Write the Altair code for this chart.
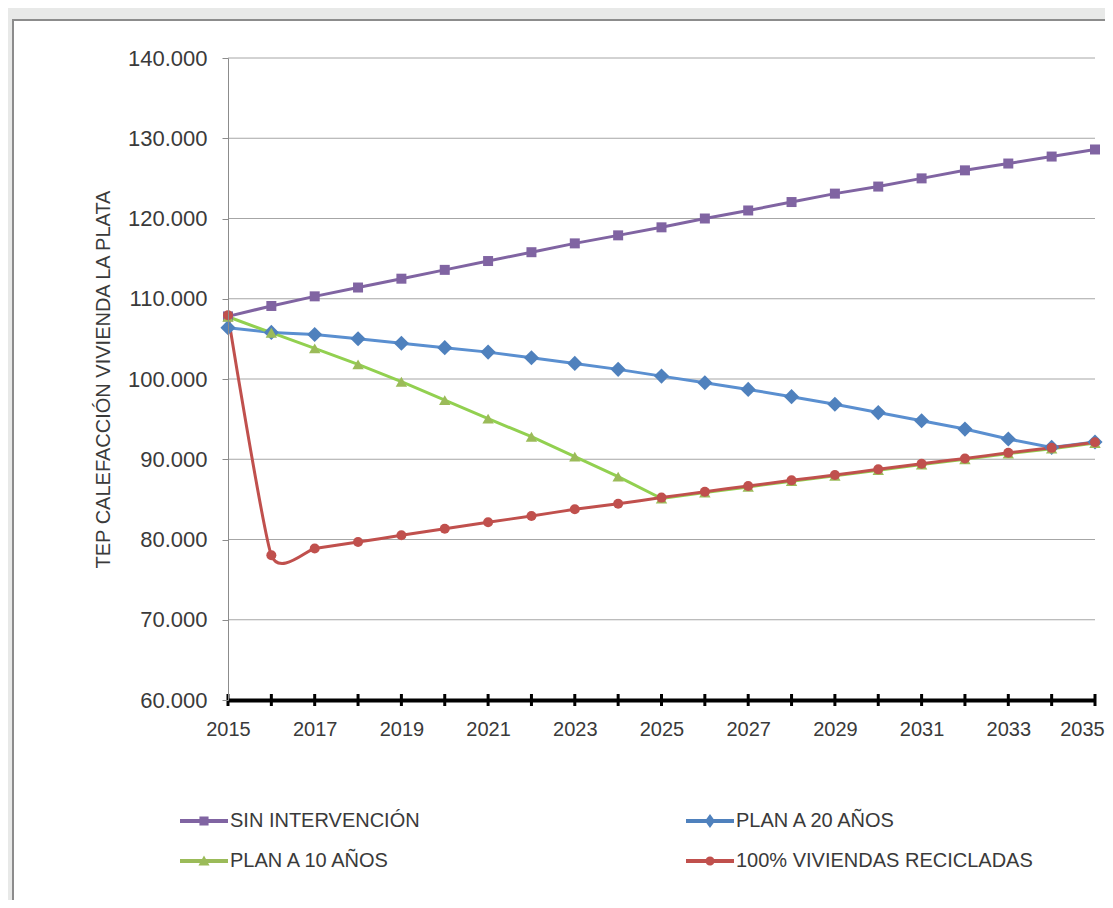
import altair as alt
import pandas as pd

years = list(range(2015, 2036))
series_names = ["SIN INTERVENCIÓN", "PLAN A 20 AÑOS", "PLAN A 10 AÑOS", "100% VIVIENDAS RECICLADAS"]

sin_intervencion = [107800, 109100, 110300, 111400, 112500, 113600, 114700, 115800, 116900, 117900,
                    118900, 120000, 121000, 122050, 123100, 123980, 125000, 126000, 126850, 127720, 128600]
plan_20 = [106400, 105800, 105550, 105020, 104450, 103900, 103350, 102650, 101940, 101200,
           100360, 99530, 98700, 97800, 96850, 95820, 94800, 93760, 92520, 91480, 92150]
plan_10 = [107760, 105770, 103810, 101820, 99660, 97370, 95060, 92810, 90320, 87830,
           85100, 85850, 86550, 87270, 87930, 88640, 89350, 90000, 90700, 91320, 92020]
recicladas = [107950, 78030, 78870, 79690, 80520, 81350, 82150, 82930, 83760, 84450,
              85220, 85960, 86660, 87370, 88030, 88740, 89450, 90100, 90800, 91420, 92120]

y_ticks = [60000, 70000, 80000, 90000, 100000, 110000, 120000, 130000, 140000]
x_label_years = [2015, 2017, 2019, 2021, 2023, 2025, 2027, 2029, 2031, 2033, 2035]

line_colors = ["#8064A2", "#5A8FD0", "#92D050", "#C0504D"]
marker_colors = ["#8064A2", "#4F81BD", "#9BBB59", "#C0504D"]
marker_shapes = ["square", "diamond", "triangle-up", "circle"]
marker_sizes = [100, 230, 130, 100]
interps = ["linear", "linear", "linear", "cardinal"]

legend_paths = [
    "M-1,-0.085H1V0.085H-1Z M-0.19,-0.19H0.19V0.19H-0.19Z",
    "M-1,-0.085H1V0.085H-1Z M0,-0.29L0.21,0L0,0.29L-0.21,0Z",
    "M-1,-0.085H1V0.085H-1Z M0,-0.23L0.23,0.19H-0.23Z",
    "M-1,-0.085H1V0.085H-1Z M0.19,0A0.19,0.19 0 1,1 -0.19,0A0.19,0.19 0 1,1 0.19,0Z",
]
# legend is filled column by column: put entries in that order
legend_order = [0, 2, 1, 3]

FONT = "Liberation Sans"
TXT = "#3a3a3a"

rows = []
for name, vals in zip(series_names, [sin_intervencion, plan_20, plan_10, recicladas]):
    for yr, v in zip(years, vals):
        rows.append({"serie": name, "year": yr, "value": v})
df = pd.DataFrame(rows)

x_scale = alt.Scale(domain=[2015, 2035], nice=False, zero=False)
y_scale = alt.Scale(domain=[60000, 140000], nice=False, zero=False)
x_axis = alt.Axis(values=x_label_years, format="d", title=None, grid=False, ticks=False,
                  domainColor="black", domainWidth=4, labelPadding=19,
                  labelOffset=alt.ConditionalAxisNumber(
                      condition={"test": "datum.value == 2035", "value": -13}, value=0),
                  labelFont=FONT, labelFontSize=20, labelColor=TXT, zindex=1,
                  labelFlush=False, labelOverlap=False)
y_axis = alt.Axis(values=y_ticks, grid=False, title="TEP CALEFACCIÓN VIVIENDA LA PLATA",
                  labelExpr="replace(format(datum.value, ','), ',', '.')",
                  domainColor="#8c8c8c", domainWidth=1, tickColor="#8c8c8c", tickSize=6,
                  labelPadding=15, labelFont=FONT, labelFontSize=22, labelColor=TXT,
                  titleFont=FONT, titleFontSize=20, titleColor=TXT, titleFontWeight="normal",
                  titleX=-125, titleY=321, titleAngle=-90, titleAlign="center",
                  titleBaseline="middle", zindex=1)


def xe(field="year:Q"):
    return alt.X(field, scale=x_scale, axis=x_axis)


def ye(field="value:Q"):
    return alt.Y(field, scale=y_scale, axis=y_axis)


frame = alt.Chart(pd.DataFrame({"k": [0]})).mark_rect(
    fill="white", stroke="#8c8c8c", strokeWidth=2
).encode(x=alt.value(-215), x2=alt.value(1000), y=alt.value(-38), y2=alt.value(1000))

grid = alt.Chart(pd.DataFrame({"value": y_ticks[1:]})).mark_rule(
    color="#a6a6a6", strokeWidth=1
).encode(y=ye())

layers = [frame, grid]
for i, name in enumerate(series_names):
    sub = df[df["serie"] == name]
    line_kw = dict(color=line_colors[i], strokeWidth=3, interpolate=interps[i])
    if interps[i] == "cardinal":
        line_kw["tension"] = 0.45
    layers.append(alt.Chart(sub).mark_line(**line_kw).encode(x=xe(), y=ye()))
for i, name in enumerate(series_names):
    sub = df[df["serie"] == name]
    layers.append(alt.Chart(sub).mark_point(filled=True, shape=marker_shapes[i], size=marker_sizes[i],
                                            color=marker_colors[i], opacity=1, strokeWidth=0)
                  .encode(x=xe(), y=ye()))

leg_kwargs = dict(orient="none", legendX=-48, legendY=739, columns=2, title=None,
                  symbolSize=2304, symbolStrokeWidth=0, labelFont=FONT, labelFontSize=20,
                  labelColor=TXT, labelOffset=2, columnPadding=266, rowPadding=6,
                  symbolOpacity=1, labelLimit=0)
leg_domain = [series_names[k] for k in legend_order]
legend_layer = alt.Chart(df).transform_filter("false").mark_point(filled=True, opacity=1).encode(
    x=xe(), y=ye(),
    color=alt.Color("serie:N", scale=alt.Scale(domain=leg_domain,
                                               range=[marker_colors[k] for k in legend_order]),
                    legend=alt.Legend(**leg_kwargs)),
    shape=alt.Shape("serie:N", scale=alt.Scale(domain=leg_domain,
                                               range=[legend_paths[k] for k in legend_order]),
                    legend=alt.Legend(**leg_kwargs)),
)
layers.append(legend_layer)

ticks = alt.Chart(pd.DataFrame({"year": years})).mark_tick(
    orient="vertical", color="black", thickness=3, size=12, opacity=1
).encode(x=xe(), y=alt.datum(60000))
layers.append(ticks)

chart = alt.layer(*layers).properties(
    width=867, height=642,
    padding={"left": 220, "top": 50, "right": 10, "bottom": 200},
    autosize=alt.AutoSizeParams(type="none"),
    background="#E8E9E8",
).configure_view(stroke=None)

chart.save("out.html", embed_options={"renderer": "svg", "actions": False})
